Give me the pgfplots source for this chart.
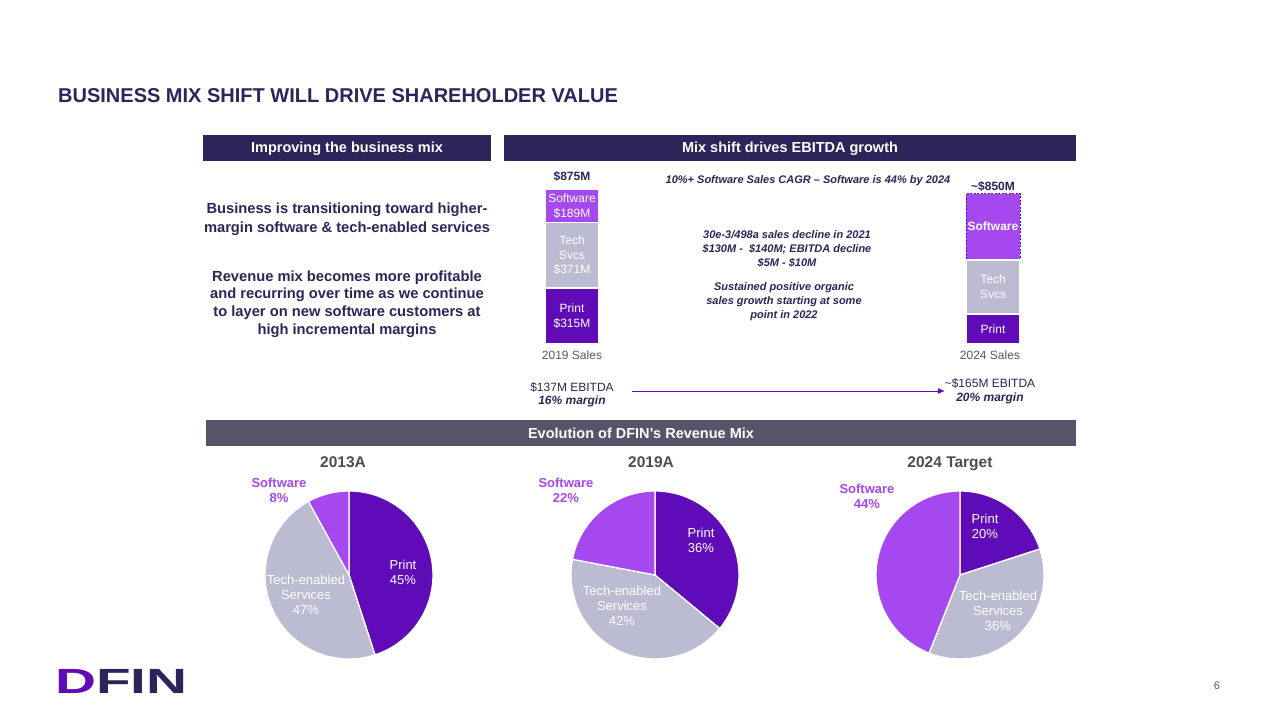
\documentclass[border=0pt]{standalone}
\usepackage{pgfplots}
\pgfplotsset{compat=1.18}
\usepackage{fontspec}
\setmainfont{Liberation Sans}
\usetikzlibrary{arrows.meta}
\definecolor{navy}{HTML}{2E2459}
\definecolor{prt}{HTML}{5F0BB8}
\definecolor{tch}{HTML}{BBBBD2}
\definecolor{sw}{HTML}{A548F0}
\definecolor{evo}{HTML}{575369}
\definecolor{ttl}{HTML}{4D4D4D}
\definecolor{gtx}{HTML}{595959}
\newcommand{\fsz}[2]{\fontsize{#1bp}{#2bp}\selectfont}
\newcommand{\pieslice}[3]{\filldraw[fill=#3, draw=white, line width=1.3bp] (axis cs:0,0) -- (axis cs:{cos(90-3.6*#1)},{sin(90-3.6*#1)}) arc[start angle={90-3.6*#1}, end angle={90-3.6*#2}, radius=84bp] -- cycle;}
\pgfplotsset{pie/.style={width=168bp, height=168bp, scale only axis, hide axis, xmin=-1, xmax=1, ymin=-1, ymax=1, anchor=center, clip=false},
  sbar/.style={width=54bp, height=177bp, scale only axis, hide axis, xmin=-0.5, xmax=0.5, ymin=0, ymax=1000, ybar stacked, bar width=54bp, anchor=south west, clip=false}}
\tikzset{blab/.style={text=white, font=\fsz{12}{14.5}, align=center, inner sep=0}}
\begin{document}
\begin{tikzpicture}
\fill[white] (0bp,0bp) rectangle (1280bp,-720bp);
\begin{scope}[x=1bp,y=1bp]
\coordinate (B19) at (545,-344);
\coordinate (B24) at (966,-344);
\coordinate (P13) at (349,-575);
\coordinate (P19) at (655,-575);
\coordinate (P24) at (960,-575);
% title
\node[anchor=west, text=navy, font=\fsz{20}{22}\bfseries, inner sep=0] at (58,-96) {BUSINESS MIX SHIFT WILL DRIVE SHAREHOLDER VALUE};
% header boxes
\fill[navy] (203,-135) rectangle (491,-161);
\node[text=white, font=\fsz{14.5}{16}\bfseries, inner sep=0] at (347,-149) {Improving the business mix};
\fill[navy] (504,-135) rectangle (1076,-161);
\node[text=white, font=\fsz{14.5}{16}\bfseries, inner sep=0] at (790,-149) {Mix shift drives EBITDA growth};
% left text
\node[text=navy, font=\fsz{14.7}{19}\bfseries, align=center, inner sep=0] at (347,-219) {Business is transitioning toward higher-\\margin software \& tech-enabled services};
\node[text=navy, font=\fsz{14.7}{17.7}\bfseries, align=center, inner sep=0] at (347,-304) {Revenue mix becomes more profitable\\and recurring over time as we continue\\to layer on new software customers at\\high incremental margins};
\node[text=gtx, font=\fsz{12}{14}, inner sep=0] at (572,-355) {2019 Sales};
\node[text=gtx, font=\fsz{12}{14}, inner sep=0] at (990,-355) {2024 Sales};
% middle texts
\node[text=navy, font=\fsz{11}{14}\bfseries\itshape, inner sep=0] at (808,-181) {10\%+ Software Sales CAGR -- Software is 44\% by 2024};
\node[text=navy, font=\fsz{11}{14}\bfseries\itshape, align=center, inner sep=0] at (787,-249) {30e-3/498a sales decline in 2021\\\$130M -\ \ \$140M; EBITDA decline\\\$5M - \$10M};
\node[text=navy, font=\fsz{11}{14}\bfseries\itshape, align=center, inner sep=0] at (784,-302) {Sustained positive organic\\sales growth starting at some\\point in 2022};
% EBITDA
\node[text=navy, font=\fsz{12}{14}, inner sep=0] at (572,-387) {\$137M EBITDA};
\node[text=navy, font=\fsz{12}{14}\bfseries\itshape, inner sep=0] at (572,-401) {16\% margin};
\draw[-{Latex[length=7bp,width=6bp]}, prt, line width=1bp] (632,-391) -- (945,-391);
\node[text=navy, font=\fsz{12}{14}, inner sep=0] at (990,-383) {\textasciitilde\$165M EBITDA};
\node[text=navy, font=\fsz{12}{14}\bfseries\itshape, inner sep=0] at (990,-398) {20\% margin};
% evolution bar
\fill[evo] (206,-420) rectangle (1076,-446);
\node[text=white, font=\fsz{14.5}{16}\bfseries, inner sep=0] at (641,-433.5) {Evolution of DFIN's Revenue Mix};
% pie titles
\node[text=ttl, font=\fsz{15.5}{18}\bfseries, inner sep=0, anchor=base] at (343,-467.5) {2013A};
\node[text=ttl, font=\fsz{15.5}{18}\bfseries, inner sep=0, anchor=base] at (651,-467.5) {2019A};
\node[text=ttl, font=\fsz{15.5}{18}\bfseries, inner sep=0, anchor=base] at (950,-467.5) {2024 Target};
% logo and page number
\node[inner sep=0, font=\fsz{35}{36}\bfseries] at (121.5,-681) {\scalebox{1.62}[1]{\textcolor{prt}{D}\textcolor{navy}{FIN}}};
\node[text=gtx, font=\fsz{11}{13}, inner sep=0] at (1217,-686) {6};
\end{scope}

% 2019 bar (Print, Tech Svcs, Software; $M)
\begin{axis}[sbar, at={(B19)}]
\addplot[fill=prt, draw=white, line width=1.8bp] coordinates {(0,315)};
\addplot[fill=tch, draw=white, line width=1.8bp] coordinates {(0,371)};
\addplot[fill=sw, draw=white, line width=1.8bp] coordinates {(0,189)};
\coordinate (a1) at (axis cs:0,157.5);
\coordinate (a2) at (axis cs:0,500.5);
\coordinate (a3) at (axis cs:0,780.5);
\coordinate (a4) at (axis cs:0,945);
\end{axis}
% 2024 bar
\begin{axis}[sbar, at={(B24)}]
\addplot[fill=prt, draw=white, line width=1.8bp] coordinates {(0,170)};
\addplot[fill=tch, draw=white, line width=1.8bp] coordinates {(0,306)};
\addplot[fill=sw, draw=prt, dash pattern=on 2bp off 1.5bp, line width=0.8bp] coordinates {(0,374)};
\coordinate (c1) at (axis cs:0,85);
\coordinate (c2) at (axis cs:0,323);
\coordinate (c3) at (axis cs:0,663);
\coordinate (c4) at (axis cs:0,890);
\end{axis}
\node[blab] at (a1) {Print\\\$315M};
\node[blab] at (a2) {Tech\\Svcs\\\$371M};
\node[blab] at (a3) {Software\\\$189M};
\node[text=navy, font=\fsz{12}{14}\bfseries, inner sep=0] at (a4) {\$875M};
\node[blab] at (c1) {Print};
\node[blab] at (c2) {Tech\\Svcs};
\node[blab, font=\fsz{12}{14.5}\bfseries] at (c3) {Software};
\node[text=navy, font=\fsz{12}{14}\bfseries, inner sep=0] at (c4) {\textasciitilde\$850M};
% pies: Print, Tech-enabled Services, Software (%)
\begin{axis}[pie, at={(P13)}]
\pieslice{0}{45}{prt}
\pieslice{45}{92}{tch}
\pieslice{92}{100}{sw}
\end{axis}
\begin{axis}[pie, at={(P19)}]
\pieslice{0}{36}{prt}
\pieslice{36}{78}{tch}
\pieslice{78}{100}{sw}
\end{axis}
\begin{axis}[pie, at={(P24)}]
\pieslice{0}{20}{prt}
\pieslice{20}{56}{tch}
\pieslice{56}{100}{sw}
\end{axis}
% pie labels
\begin{scope}[x=1bp,y=1bp]
\node[text=white, font=\fsz{13}{15}, align=center, inner sep=0] at (403,-572) {Print\\45\%};
\node[text=white, font=\fsz{13}{15}, align=center, inner sep=0] at (306,-595) {Tech-enabled\\Services\\47\%};
\node[text=sw, font=\fsz{13}{15}\bfseries, align=center, inner sep=0] at (279,-490) {Software\\8\%};
\node[text=white, font=\fsz{13}{15}, align=center, inner sep=0] at (701,-540) {Print\\36\%};
\node[text=white, font=\fsz{13}{15}, align=center, inner sep=0] at (622,-606) {Tech-enabled\\Services\\42\%};
\node[text=sw, font=\fsz{13}{15}\bfseries, align=center, inner sep=0] at (566,-490) {Software\\22\%};
\node[text=white, font=\fsz{13}{15}, align=center, inner sep=0] at (985,-526) {Print\\20\%};
\node[text=white, font=\fsz{13}{15}, align=center, inner sep=0] at (998,-611) {Tech-enabled\\Services\\36\%};
\node[text=sw, font=\fsz{13}{15}\bfseries, align=center, inner sep=0] at (867,-496) {Software\\44\%};
\end{scope}
\end{tikzpicture}
\end{document}
